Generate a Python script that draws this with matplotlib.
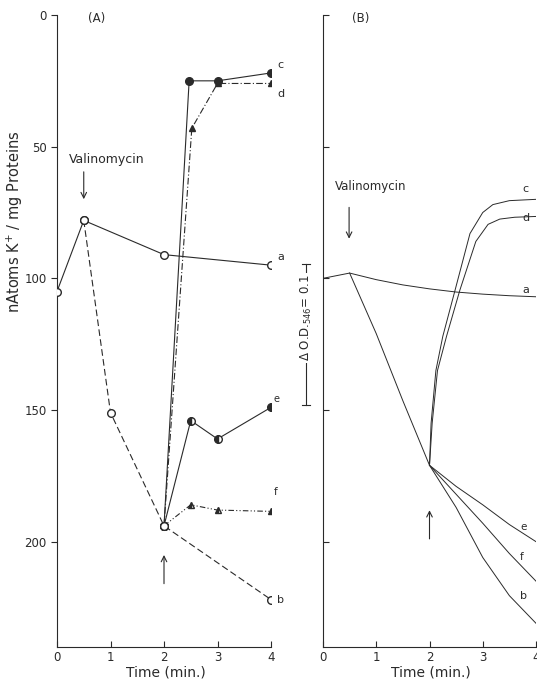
import matplotlib.pyplot as plt

# ---- Panel A: K+ content (nAtoms K+/mg protein) ----
a_t = [0, 0.5, 2, 4]
a_k = [105, 78, 91, 95]
b_t = [0.5, 1, 2, 4]
b_k = [78, 151, 194, 222]
c_t = [2, 2.47, 3, 4]
c_k = [194, 25, 25, 22]
d_t = [2, 2.52, 3, 4]
d_k = [194, 43, 26, 26]
e_t = [2, 2.5, 3, 4]
e_k = [194, 154, 161, 149]
f_t = [2, 2.5, 3, 4]
f_k = [194, 186, 188, 188.5]

# ---- Panel B: optical density traces (same vertical scale) ----
pre_t = [0.5, 1.0, 1.5, 2.0]
pre_y = [98, 121, 146.5, 171]
ba_t = [0, 0.5, 1, 1.5, 2, 2.5, 3, 3.5, 4]
ba_y = [100, 98, 100.5, 102.5, 104, 105.2, 106, 106.6, 107]
be_t = [2, 2.5, 3, 3.5, 4]
be_y = [171, 179, 186, 193.5, 200]
bf_t = [2, 2.5, 3, 3.5, 4]
bf_y = [171, 182, 193, 204.5, 215]
bb_t = [2, 2.5, 3, 3.5, 4]
bb_y = [171, 187, 206, 220.5, 231]
bc_t = [2, 2.03, 2.12, 2.25, 2.48, 2.76, 3.0, 3.19, 3.5, 4]
bc_y = [171, 155, 135, 122, 104.5, 83, 75, 72, 70.5, 70]
bd_t = [2, 2.05, 2.15, 2.32, 2.57, 2.87, 3.1, 3.32, 3.6, 4]
bd_y = [171, 155, 135, 122, 104.5, 86, 79.5, 77.5, 76.8, 76.5]

x_ticks = [0, 1, 2, 3, 4]
y_ticks = [0, 50, 100, 150, 200]

ink = '#2a2a2a'
plt.rcParams['font.family'] = 'DejaVu Sans'
plt.rcParams['text.color'] = ink

fig = plt.figure(figsize=(5.37, 6.8), dpi=100)
axA = fig.add_axes([57/537, 33/680, 214/537, 632/680])
axB = fig.add_axes([323/537, 33/680, 213/537, 632/680])

for ax in (axA, axB):
    ax.set_xlim(0, 4)
    ax.set_ylim(240, 0)
    ax.spines['top'].set_visible(False)
    ax.spines['right'].set_visible(False)
    ax.spines['left'].set_color(ink)
    ax.spines['bottom'].set_color(ink)
    ax.spines['left'].set_linewidth(0.8)
    ax.spines['bottom'].set_linewidth(0.8)
    ax.set_xticks(x_ticks)
    ax.set_xticklabels([str(t) for t in x_ticks])
    ax.tick_params(axis='x', direction='in', length=4, colors=ink, labelsize=8.5, pad=3)

# x labels as figure text so they sit just under the tick labels
fig.text(166/537, 1 - 672/680, 'Time (min.)', fontsize=10, ha='center', va='center')
fig.text(431/537, 1 - 672/680, 'Time (min.)', fontsize=10, ha='center', va='center')

# Panel A
axA.set_yticks(y_ticks)
axA.set_yticklabels([str(v) for v in y_ticks])
axA.tick_params(axis='y', direction='out', length=4, colors=ink, labelsize=8.5)

lw = 0.8
ms = 5.5
axA.plot(a_t, a_k, '-', color=ink, lw=lw, marker='o', ms=ms, mfc='white', mec=ink, zorder=3)
axA.plot(b_t, b_k, color=ink, lw=lw, ls=(0, (6, 3)), marker='o', ms=ms, mfc='white', mec=ink, zorder=3)
axA.plot(c_t, c_k, '-', color=ink, lw=lw, marker='o', ms=ms, mfc=ink, mec=ink, zorder=4)
axA.plot(d_t, d_k, color=ink, lw=lw, ls=(0, (6, 2, 1, 2)), marker='^', ms=ms - 0.5,
         mfc=ink, mec=ink, zorder=4)
axA.plot(e_t, e_k, '-', color=ink, lw=lw, marker='o', ms=ms, fillstyle='left',
         mfc=ink, mfcalt='white', mec=ink, zorder=4)
axA.plot(f_t, f_k, color=ink, lw=lw, ls=(0, (5, 2, 1, 2, 1, 2)), marker='^', ms=ms - 1,
         fillstyle='left', mfc=ink, mfcalt='white', mec=ink, zorder=4)
# redraw open circle at branch point
axA.plot([2], [194], 'o', ms=ms, mfc='white', mec=ink, zorder=5)

axA.text(4.12, 19, 'c', fontsize=8, ha='left', va='center')
axA.text(4.12, 30, 'd', fontsize=8, ha='left', va='center')
axA.text(4.12, 92, 'a', fontsize=8, ha='left', va='center')
axA.text(4.05, 146, 'e', fontsize=7, ha='left', va='center')
axA.text(4.05, 181, 'f', fontsize=7.5, ha='left', va='center')
axA.text(4.12, 222, 'b', fontsize=8, ha='left', va='center')
axA.text(0.58, 1.2, '(A)', fontsize=8.5, ha='left', va='center')
axA.text(0.22, 55, 'Valinomycin', fontsize=9, ha='left', va='center')
axA.annotate('', xy=(0.5, 71), xytext=(0.5, 58.5),
             arrowprops=dict(arrowstyle='->', color=ink, lw=0.8))
axA.annotate('', xy=(2, 204), xytext=(2, 217),
             arrowprops=dict(arrowstyle='->', color=ink, lw=0.8))

fig.text(15/537, 1 - 222/680, 'nAtoms K$^{+}$ / mg Proteins', rotation=90,
         fontsize=10.5, ha='center', va='center', color=ink)

# Panel B
axB.set_yticks([0, 50, 100, 150, 200])
axB.set_yticklabels([])
axB.tick_params(axis='y', direction='in', length=4, colors=ink)

lwB = 0.7
axB.plot(ba_t, ba_y, '-', color=ink, lw=lwB)
axB.plot(pre_t, pre_y, '-', color=ink, lw=lwB)
axB.plot(be_t, be_y, '-', color=ink, lw=lwB)
axB.plot(bf_t, bf_y, '-', color=ink, lw=lwB)
axB.plot(bb_t, bb_y, '-', color=ink, lw=lwB)
axB.plot(bc_t, bc_y, '-', color=ink, lw=lwB)
axB.plot(bd_t, bd_y, '-', color=ink, lw=lwB)

axB.text(3.75, 66, 'c', fontsize=8, ha='left', va='center')
axB.text(3.75, 77, 'd', fontsize=8, ha='left', va='center')
axB.text(3.75, 104.5, 'a', fontsize=8, ha='left', va='center')
axB.text(3.7, 194.5, 'e', fontsize=7.5, ha='left', va='center')
axB.text(3.7, 206, 'f', fontsize=7.5, ha='left', va='center')
axB.text(3.7, 220.5, 'b', fontsize=8, ha='left', va='center')
axB.text(0.55, 1.5, '(B)', fontsize=8.5, ha='left', va='center')
axB.text(0.9, 65, 'Valinomycin', fontsize=8.5, ha='center', va='center')
axB.annotate('', xy=(0.49, 86), xytext=(0.49, 72),
             arrowprops=dict(arrowstyle='->', color=ink, lw=0.8))
axB.annotate('', xy=(2, 187), xytext=(2, 200),
             arrowprops=dict(arrowstyle='->', color=ink, lw=0.8))

# scale bar for optical density
xb = 306/537
top_b, bot_b = 1 - 264/680, 1 - 405/680
fig.add_artist(plt.Line2D([xb, xb], [top_b, bot_b], color=ink, lw=0.8))
fig.add_artist(plt.Line2D([xb - 0.008, xb + 0.008], [top_b, top_b], color=ink, lw=0.8))
fig.add_artist(plt.Line2D([xb - 0.008, xb + 0.008], [bot_b, bot_b], color=ink, lw=0.8))
fig.text(xb, 1 - 318/680, '$\\Delta$ O.D.$_{546}$= 0.1', rotation=90, fontsize=8.5,
         ha='center', va='center', color=ink,
         bbox=dict(facecolor='white', edgecolor='none', pad=1.5))

fig.savefig('out.png', dpi=100)
